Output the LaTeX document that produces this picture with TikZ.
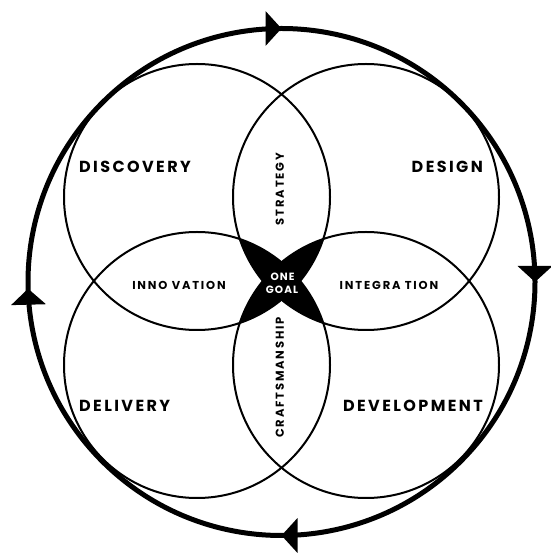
\documentclass[tikz,border=0pt]{standalone}
\usepackage{fontspec}
\newfontfamily\bigfont{Poppins}[LetterSpace=15]
\newfontfamily\smallfont{Poppins}[LetterSpace=16]
\newfontfamily\goalfont{Poppins}[LetterSpace=10]
\usetikzlibrary{arrows.meta,decorations.markings}
\tikzset{ringtip/.tip={Triangle[width=34pt,length=16pt]}}
\begin{document}
\begin{tikzpicture}[x=1pt,y=1pt,
  petal/.style={draw=black,line width=2pt},
  ring/.style={draw=black,line width=5pt},
  biglabel/.style={font=\bigfont\bfseries\fontsize{16}{16}\selectfont,inner sep=0pt},
  smalllabel/.style={font=\smallfont\bfseries\fontsize{11.5}{11.5}\selectfont,inner sep=0pt},
  goallabel/.style={font=\goalfont\bfseries\fontsize{10.5}{10.5}\selectfont,inner sep=0pt,text=white}
]
\useasboundingbox (0,0) rectangle (550,557);
\coordinate (O) at (281.5,275);
\coordinate (A) at (197,360);
\coordinate (B) at (366,360);
\coordinate (C) at (197,192);
\coordinate (D) at (366,192);
% triple intersections (black centre)
\foreach \a/\b/\c in {A/B/C,A/B/D,A/C/D,B/C/D}{
  \begin{scope}
    \clip (\a) circle[radius=133];
    \clip (\b) circle[radius=133];
    \fill[black] (\c) circle[radius=133];
  \end{scope}
}
% four circles
\foreach \p in {A,B,C,D}{\draw[petal] (\p) circle[radius=133];}
% outer ring with clockwise arrows
\draw[ring,postaction={decorate},decoration={markings,
   mark=at position 0.125 with {\arrow{ringtip}},
   mark=at position 0.375 with {\arrow{ringtip}},
   mark=at position 0.625 with {\arrow{ringtip}},
   mark=at position 0.8708 with {\arrow{ringtip}}}]
  (O) ++(135:253.5) arc[start angle=135,end angle=-225,radius=253.5];
% labels
\node[biglabel,anchor=west] (discovery) at (79,390.5) {DISCOVERY};
\node[biglabel,anchor=east] (design) at (483,390.5) {DESIGN};
\node[biglabel,anchor=west] (delivery) at (79,151.5) {DELIVERY};
\node[biglabel,anchor=east] (development) at (483,151.5) {DEVELOPMENT};
\node[smalllabel] (innovation) at (179,272) {INNO VATION};
\node[smalllabel] (integration) at (389,272) {INTEGRA TION};
\node[smalllabel,rotate=90] (strategy) at (279.7,368) {STRATEGY};
\node[smalllabel,rotate=90] (craft) at (279.7,179.5) {CRAFTSMANSHIP};
\node[goallabel] (one) at (282.5,280.2) {ONE};
\node[goallabel] (goal) at (282,266.7) {GOAL};
\end{tikzpicture}
\end{document}
